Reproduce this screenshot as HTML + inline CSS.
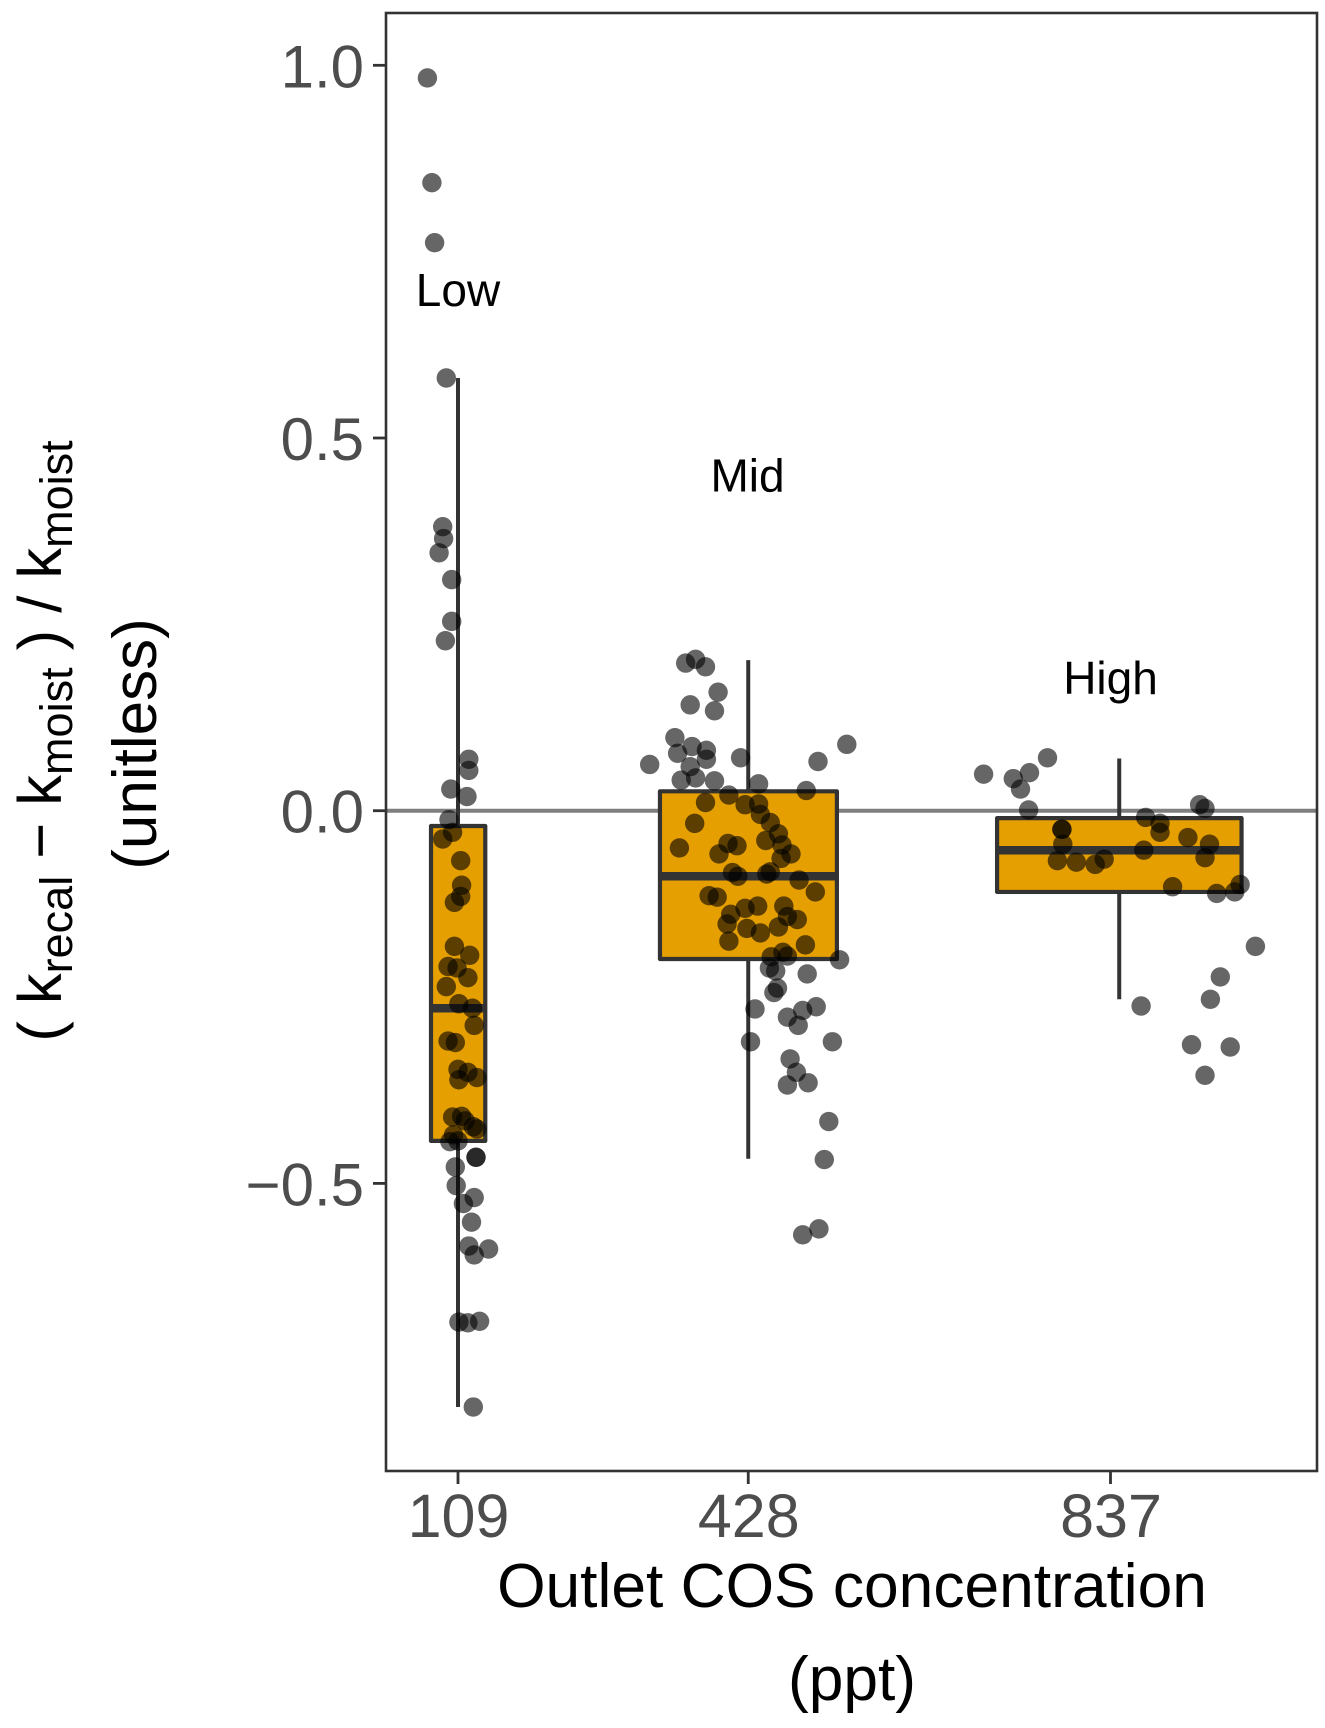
<!DOCTYPE html>
<html lang="en">
<head>
<meta charset="utf-8">
<title>Outlet COS concentration boxplot</title>
<style>
html,body{margin:0;padding:0;background:#fff}
body{width:1325px;height:1728px;overflow:hidden}
svg{display:block}
text{font-family:"Liberation Sans",sans-serif}
</style>
</head>
<body>
<svg id="chart" xmlns="http://www.w3.org/2000/svg" width="1325" height="1728" viewBox="0 0 1325 1728">
  <g id="marks"></g>
  <rect x="386" y="13" width="931" height="1458" fill="none" stroke="#333" stroke-width="2.6"/>
  <g id="axes"></g>
  <text x="458" y="306" font-size="46" text-anchor="middle" fill="#000">Low</text>
  <text x="747.5" y="491.5" font-size="46" text-anchor="middle" fill="#000">Mid</text>
  <text x="1110.5" y="694" font-size="46" text-anchor="middle" fill="#000">High</text>
  <text x="852" y="1607" font-size="62.3" text-anchor="middle" fill="#000">Outlet COS concentration</text>
  <text x="852" y="1700" font-size="62.3" text-anchor="middle" fill="#000">(ppt)</text>
  <text transform="translate(61,741) rotate(-90)" font-size="61.5" text-anchor="middle" fill="#000">( k<tspan font-size="45" dy="11">recal</tspan><tspan dy="-11"> − k</tspan><tspan font-size="45" dy="11">moist</tspan><tspan dy="-11"> ) / k</tspan><tspan font-size="45" dy="11">moist</tspan></text>
  <text transform="translate(156,744) rotate(-90)" font-size="62" text-anchor="middle" fill="#000">(unitless)</text>
</svg>
<script>
const xTickValues = [109, 431.5, 834];
const xTickLabels = ["109", "428", "837"];
const yTickValues = [1, 0.5, 0, -0.5];
const yTickLabels = ["1.0", "0.5", "0.0", "\u22120.5"];

const boxLeft = [79, 333.4, 708];
const boxRight = [139.3, 530, 979.6];
const boxCenter = [109, 431.5, 843.7];
const whiskerLow = [-0.800, -0.467, -0.253];
const whiskerHigh = [0.5805, 0.202, 0.070];
const q1 = [-0.443, -0.199, -0.109];
const medians = [-0.265, -0.088, -0.053];
const q3 = [-0.0205, 0.026, -0.010];

const lowX = [75,80,83,96,92,93,88,102,102,95,121,121,101,119,99,103,92,112,113,112,105,105,122,98,108,120,96,110,125,127,98,106,109,120,130,110,103,113,117,130,126,104,109,100,129,129,106,107,115,127,124,121,143,127,110,120,133,126];
const lowY = [0.983,0.8425,0.762,0.5805,0.381,0.365,0.346,0.310,0.254,0.228,0.069,0.054,0.029,0.019,-0.012,-0.029,-0.038,-0.067,-0.100,-0.115,-0.123,-0.182,-0.194,-0.209,-0.211,-0.224,-0.236,-0.259,-0.265,-0.288,-0.309,-0.311,-0.347,-0.351,-0.358,-0.361,-0.411,-0.410,-0.416,-0.427,-0.424,-0.435,-0.443,-0.444,-0.465,-0.465,-0.478,-0.503,-0.527,-0.519,-0.552,-0.584,-0.588,-0.596,-0.686,-0.687,-0.685,-0.800];

const midX = [362,373,384,398,367,394,350,369,353,385,385,423,541,509,322,367,373,357,394,443,496,410,384,443,428,445,456,372,465,451,469,355,409,419,479,399,468,414,420,452,456,488,506,388,397,412,428,442,471,475,486,408,430,465,445,410,495,470,457,475,533,455,462,497,464,460,439,507,492,475,487,434,525,478,485,475,498,521,516,510,492];
const midY = [0.198,0.203,0.193,0.159,0.142,0.134,0.098,0.086,0.077,0.081,0.069,0.071,0.089,0.066,0.062,0.059,0.044,0.041,0.040,0.036,0.027,0.021,0.011,0.009,0.008,-0.005,-0.016,-0.017,-0.031,-0.040,-0.046,-0.050,-0.044,-0.047,-0.058,-0.058,-0.064,-0.083,-0.088,-0.085,-0.082,-0.093,-0.109,-0.114,-0.116,-0.139,-0.131,-0.128,-0.128,-0.142,-0.146,-0.152,-0.158,-0.156,-0.164,-0.175,-0.180,-0.190,-0.196,-0.195,-0.200,-0.211,-0.215,-0.219,-0.238,-0.244,-0.266,-0.263,-0.268,-0.277,-0.288,-0.310,-0.310,-0.333,-0.351,-0.368,-0.365,-0.417,-0.468,-0.561,-0.569];

const highX = [693,726,744,764,734,743,780,780,781,775,796,817,827,873,889,889,871,920,933,939,944,939,903,952,972,978,995,956,945,868,924,967,939];
const highY = [0.049,0.043,0.051,0.071,0.029,0.001,-0.025,-0.025,-0.045,-0.067,-0.069,-0.072,-0.065,-0.009,-0.017,-0.029,-0.053,-0.036,0.008,0.003,-0.045,-0.063,-0.102,-0.111,-0.109,-0.099,-0.182,-0.223,-0.253,-0.262,-0.314,-0.317,-0.355];

const NS = "http://www.w3.org/2000/svg";
const xScale = v => 458 + (v - 109) * 0.9;
const yScale = v => 810.7 - v * 745.4;
const marks = document.getElementById("marks");
const axes = document.getElementById("axes");
const seriesNames = ["low", "mid", "high"];

function make(parent, tag, attrs) {
  const el = document.createElementNS(NS, tag);
  for (const k in attrs) el.setAttribute(k, attrs[k]);
  parent.appendChild(el);
  return el;
}

const zero = make(marks, "line", {x1: 386, x2: 1317, y1: yScale(0), y2: yScale(0), stroke: "#7f7f7f", "stroke-width": 4});



boxCenter.forEach((c, i) => {
  const g = make(marks, "g", {});
  
  
  const whisker = make(g, "line", {x1: xScale(c), x2: xScale(c), y1: yScale(whiskerHigh[i]), y2: yScale(whiskerLow[i]), stroke: "#333", "stroke-width": 4});
  
  
  const rect = make(g, "rect", {x: xScale(boxLeft[i]), width: xScale(boxRight[i]) - xScale(boxLeft[i]), y: yScale(q3[i]), height: yScale(q1[i]) - yScale(q3[i]), fill: "#E69F00", stroke: "#333", "stroke-width": 4.2, "stroke-linejoin": "round"});
  
  
  const med = make(g, "line", {x1: xScale(boxLeft[i]), x2: xScale(boxRight[i]), y1: yScale(medians[i]), y2: yScale(medians[i]), stroke: "#333", "stroke-width": 8.5});
  
  
});

[[lowX, lowY, "low"], [midX, midY, "mid"], [highX, highY, "high"]].forEach(([xs, ys, name]) => {
  const g = make(marks, "g", {});
  
  
  xs.forEach((xv, i) => {
    const c = make(g, "circle", {cx: xScale(xv), cy: yScale(ys[i]), r: 9.7, fill: "#000", "fill-opacity": 0.6});
    
    
  });
});

yTickValues.forEach((v, i) => {
  const tick = make(axes, "line", {x1: 373, x2: 386, y1: yScale(v), y2: yScale(v), stroke: "#333", "stroke-width": 2.8});
  
  
  const label = make(axes, "text", {x: 364, y: yScale(v) + 22, "font-size": 60, "text-anchor": "end", fill: "#4d4d4d"});
  
  
  label.textContent = yTickLabels[i];
});

xTickValues.forEach((v, i) => {
  const tick = make(axes, "line", {x1: xScale(v), x2: xScale(v), y1: 1471, y2: 1484, stroke: "#333", "stroke-width": 2.8});
  
  
  const label = make(axes, "text", {x: xScale(v) + 0.5, y: 1537, "font-size": 61, "text-anchor": "middle", fill: "#4d4d4d"});
  
  
  label.textContent = xTickLabels[i];
});
</script>
</body>
</html>
